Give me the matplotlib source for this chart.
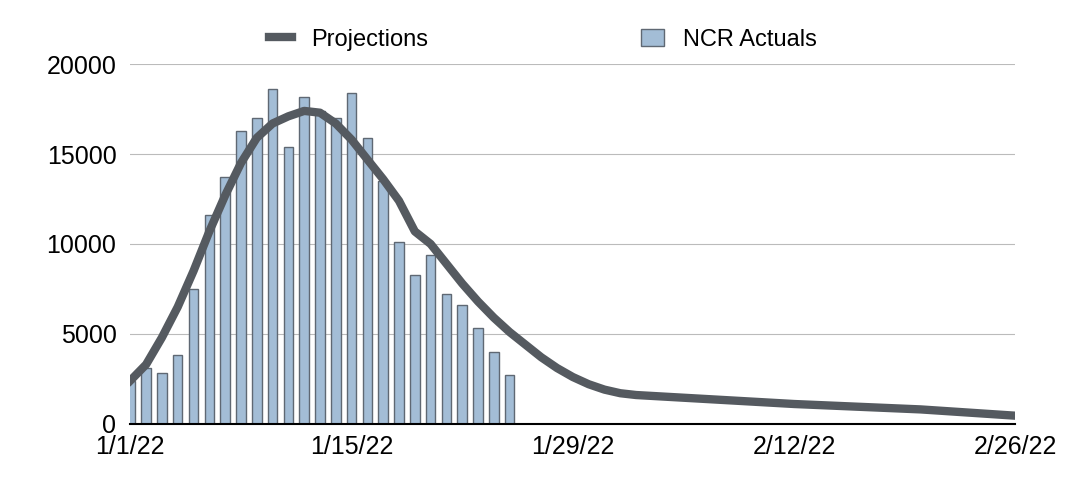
import matplotlib
matplotlib.use("Agg")
import matplotlib.pyplot as plt
import datetime as dt

plt.rcParams['font.family'] = ['Liberation Sans', 'DejaVu Sans']

start = dt.date(2022,1,1)
actuals = [2400,3100,2800,3800,7500,11600,13700,16300,17000,18600,15400,18200,17400,17000,18400,15900,13500,10100,8300,9400,7200,6600,5300,4000,2700]
proj_days = list(range(0,33)) + [35,38,42,46,50,56]
proj_vals = [2400,3300,4800,6500,8500,10700,12700,14500,15900,16700,17100,17400,17300,16700,15800,14700,
             13600,12400,10700,10000,8900,7800,6800,5900,5100,4400,3700,3100,2600,2200,1900,1700,1600,
             1450,1300,1100,950,800,450]
ticks = ["1/1/22","1/15/22","1/29/22","2/12/22","2/26/22"]

bar_dates = [start+dt.timedelta(days=i) for i in range(len(actuals))]
line_dates = [start+dt.timedelta(days=d) for d in proj_days]

fig = plt.figure(figsize=(10.86,4.86), dpi=100)
ax = fig.add_axes([0.12,0.128,0.815,0.74])
ax.bar(bar_dates, actuals, width=0.6, color="#a3bdd6", edgecolor="#5f6873", linewidth=1.0, label="NCR Actuals", zorder=2)
ax.plot(line_dates, proj_vals, color="#555a60", lw=6, label="Projections", zorder=3)
ax.set_ylim(0,20000)
ax.set_yticks([0,5000,10000,15000,20000])
ax.set_xlim(start-dt.timedelta(days=0.7), start+dt.timedelta(days=56.7))
ax.set_xticks([start+dt.timedelta(days=14*i) for i in range(5)])
ax.set_xticklabels(ticks)
ax.tick_params(labelsize=18, length=0, pad=8)
ax.tick_params(axis="y", pad=10)
ax.grid(axis="y", color="#bbbbbb", lw=0.8, zorder=0)
for s in ["top","right","left"]:
    ax.spines[s].set_visible(False)
ax.spines["bottom"].set_linewidth(1.5)
h,l = ax.get_legend_handles_labels()
order = [l.index("Projections"), l.index("NCR Actuals")]
fig.legend([h[i] for i in order], [l[i] for i in order],
           loc="upper center", bbox_to_anchor=(0.5,0.985), ncol=2, frameon=False, fontsize=17,
           columnspacing=9, handlelength=1.0, handletextpad=0.8)
fig.savefig("out.png", dpi=100)
